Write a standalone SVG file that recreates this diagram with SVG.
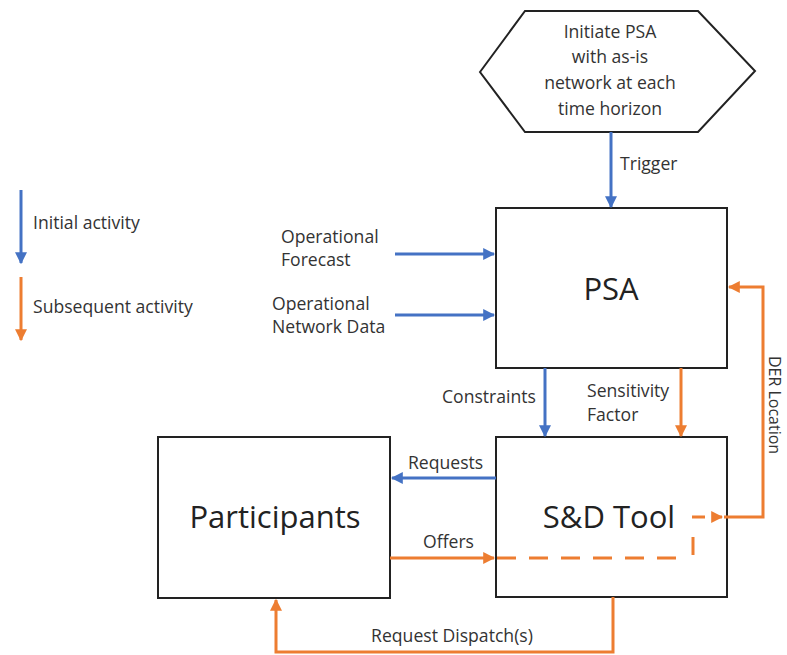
<svg xmlns="http://www.w3.org/2000/svg" width="787" height="655" viewBox="0 0 787 655">
<style>
text{font-family:"Open Sans","Liberation Sans",sans-serif;fill:#333}
.lbl{font-size:17.6px}
.big{font-size:31px;text-anchor:middle;fill:#222}
.box{fill:#fff;stroke:#222;stroke-width:2}
.b{stroke:#4472C4;stroke-width:3;fill:none}
.o{stroke:#ED7D31;stroke-width:3;fill:none}
.d{stroke:#ED7D31;stroke-width:3;fill:none;stroke-dasharray:19,13}
</style>
<defs>
<marker id="ab" viewBox="0 0 10 10" refX="9" refY="5" markerWidth="4" markerHeight="4" orient="auto"><path d="M0,0L10,5L0,10z" fill="#4472C4"/></marker>
<marker id="ao" viewBox="0 0 10 10" refX="9" refY="5" markerWidth="4" markerHeight="4" orient="auto"><path d="M0,0L10,5L0,10z" fill="#ED7D31"/></marker>
</defs>
<rect width="787" height="655" fill="#fff"/>
<g id="initiate">
<polygon class="box" points="480,72 525,11 698,11 755,71 698,132 525,132"/>
<text class="lbl" text-anchor="middle" x="610" y="38">Initiate PSA</text>
<text class="lbl" text-anchor="middle" x="610" y="63">with as-is</text>
<text class="lbl" text-anchor="middle" x="610" y="89">network at each</text>
<text class="lbl" text-anchor="middle" x="610" y="115">time horizon</text>
</g>
<g id="psa">
<rect class="box" x="496" y="208" width="231" height="160"/>
<text class="big" x="611" y="300">PSA</text>
</g>
<g id="sd-tool">
<rect class="box" x="496" y="437" width="231" height="160"/>
<text class="big" x="609" y="528">S&amp;D Tool</text>
</g>
<g id="participants">
<rect class="box" x="158" y="437" width="232" height="161"/>
<text class="big" x="275" y="528">Participants</text>
</g>
<g id="legend">
<line class="b" x1="21" y1="190" x2="21" y2="263" marker-end="url(#ab)"/>
<text class="lbl" x="33" y="229">Initial activity</text>
<line class="o" x1="21" y1="277" x2="21" y2="340" marker-end="url(#ao)"/>
<text class="lbl" x="33" y="313">Subsequent activity</text>
</g>
<g id="connectors">
<line class="b" x1="611" y1="132" x2="611" y2="207" marker-end="url(#ab)"/>
<text class="lbl" x="620" y="170">Trigger</text>
<line class="b" x1="395" y1="254" x2="494" y2="254" marker-end="url(#ab)"/>
<text class="lbl" x="281" y="243">Operational</text>
<text class="lbl" x="281" y="266">Forecast</text>
<line class="b" x1="395" y1="315" x2="494" y2="315" marker-end="url(#ab)"/>
<text class="lbl" x="272" y="310">Operational</text>
<text class="lbl" x="272" y="333">Network Data</text>
<line class="b" x1="545" y1="368" x2="545" y2="436" marker-end="url(#ab)"/>
<text class="lbl" x="442" y="403">Constraints</text>
<line class="o" x1="681" y1="368" x2="681" y2="436" marker-end="url(#ao)"/>
<text class="lbl" x="587" y="397">Sensitivity</text>
<text class="lbl" x="587" y="421">Factor</text>
<line class="b" x1="496" y1="478" x2="392" y2="478" marker-end="url(#ab)"/>
<text class="lbl" x="408" y="469">Requests</text>
<line class="o" x1="390" y1="558" x2="494" y2="558" marker-end="url(#ao)"/>
<text class="lbl" x="423" y="548">Offers</text>
<path class="d" d="M497,558H683"/>
<path class="d" d="M693,555V537" style="stroke-dasharray:none"/>
<path class="d" d="M692,517H722" style="stroke-dasharray:13,8" marker-end="url(#ao)"/>
<path class="o" d="M724,517H763V287H729" marker-end="url(#ao)"/>
<text class="lbl" transform="translate(769,405) rotate(90)" text-anchor="middle" style="font-size:16px">DER Location</text>
<path class="o" d="M613,597V652H276V600" marker-end="url(#ao)"/>
<text class="lbl" x="452" y="642" text-anchor="middle">Request Dispatch(s)</text>
</g>
</svg>
